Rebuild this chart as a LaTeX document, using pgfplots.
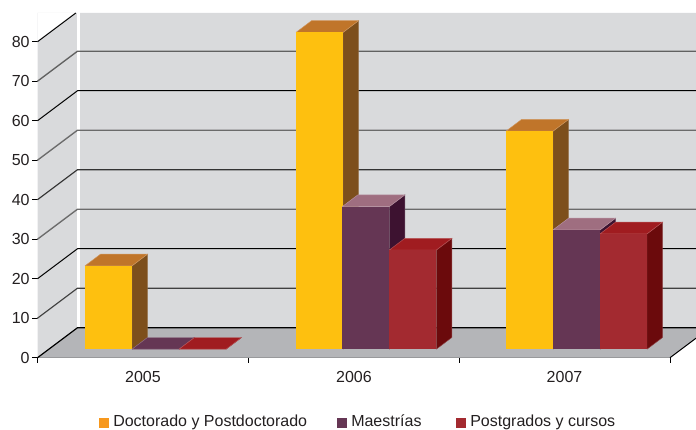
\documentclass[border=0pt]{standalone}
\usepackage{fontspec}
\setmainfont{Liberation Sans}
\usepackage{pgfplots}
\pgfplotsset{compat=1.18}

\definecolor{wallc}{HTML}{D9DADC}
\definecolor{floorc}{HTML}{B4B5B8}
\definecolor{inkc}{HTML}{231F20}
\definecolor{keyY}{HTML}{F7981D}
\definecolor{yelF}{HTML}{FEC00F}\definecolor{yelS}{HTML}{7D4F1C}\definecolor{yelT}{HTML}{C0752A}
\definecolor{purF}{HTML}{653654}\definecolor{purS}{HTML}{3D1230}\definecolor{purT}{HTML}{9F6E80}
\definecolor{redF}{HTML}{A32A30}\definecolor{redS}{HTML}{6B0A0C}\definecolor{redT}{HTML}{A01C20}

% one back-wall grid line: rises along the side wall, then runs along the back wall
\newcommand\wallrule[3]{%
  \pgfmathsetmacro\wallv{#1+7.595}%
  \addplot[#2, line width=#3] coordinates {(37.5,#1) (77.5,\wallv) (696,\wallv)};}

% one solid bar: left edge, value, front / side / top colours
\newcommand\solidbar[5]{%
  \pgfmathsetmacro\barxc{#1+23.5}\pgfmathsetmacro\barxr{#1+47}%
  \pgfmathsetmacro\barxl{#1+15.5}\pgfmathsetmacro\barxb{#1+62.5}%
  \pgfmathsetmacro\barvb{#2+2.96}%
  \addplot[fill=#4, draw=#4!75!white, line width=0.35pt] coordinates {(\barxr,0) (\barxb,2.96) (\barxb,\barvb) (\barxr,#2) (\barxr,0)};
  \addplot[fill=#5, draw=#5!75!white, line width=0.35pt] coordinates {(#1,#2) (\barxl,\barvb) (\barxb,\barvb) (\barxr,#2) (#1,#2)};
  \addplot[ybar, bar width=47, bar shift=0pt, fill=#3, draw=none] coordinates {(\barxc,#2)};}

\begin{document}
\begin{tikzpicture}
\useasboundingbox (-28.125pt,-53.475pt) rectangle (493.875pt,268.275pt);

% frame: side wall, back wall, floor, ticks
\begin{axis}[
  scale only axis, width=474.375pt, height=237pt,
  xmin=37.5, xmax=670, ymin=0, ymax=80,
  clip=false,
  axis lines*=left,
  x axis line style={draw=black!60, line width=1pt},
  y axis line style={draw=none},
  ytick={0,10,...,80},
  xtick={143,354,564.5},
  xticklabels={2005,2006,2007},
  minor xtick={37.5,248.5,459.5,670},
  tick align=outside,
  major tick length=3.75pt,
  minor tick length=3.75pt,
  major x tick style={draw=none},
  minor x tick style={black, line width=0.75pt},
  y tick style={black, line width=0.75pt},
  tick label style={font=\fontsize{12}{14}\selectfont, text=inkc},
  /pgf/number format/assume math mode=true,
  yticklabel style={inner sep=0pt, xshift=-2pt},
  xticklabel style={inner sep=0pt, yshift=-6pt},
]
  \addplot[fill=wallc, draw=none] coordinates {(37.5,0) (77.5,7.595) (77.5,87.27) (37.5,87.27) (37.5,0)};
  \addplot[fill=wallc, draw=none] coordinates {(80,7.595) (696,7.595) (696,87.27) (80,87.27) (80,7.595)};
  \addplot[fill=white, draw=none] coordinates {(37.5,80) (75.8,87.27) (37.5,87.27) (37.5,80)};
  \addplot[white, line width=1.8pt] coordinates {(78.5,7.595) (78.5,87.27)};
  \addplot[fill=floorc, draw=none] coordinates {(37.5,0) (77.5,7.595) (696,7.595) (696,4.94) (670,0) (37.5,0)};

  \wallrule{70}{black!62}{1pt}
  \wallrule{60}{black}{0.75pt}
  \wallrule{50}{black!58}{1pt}
  \wallrule{40}{black!80}{0.85pt}
  \wallrule{30}{black!58}{1pt}
  \wallrule{20}{black}{0.75pt}
  \wallrule{10}{black!75}{0.85pt}
  \wallrule{0}{black}{0.9pt}
  \addplot[black, line width=0.75pt] coordinates {(37.5,80) (75.8,87.27)};
  \addplot[black, line width=0.75pt] coordinates {(670,0) (696,4.94)};

  % legend
  \fill[keyY] (axis cs:99,-15.3) rectangle (axis cs:109,-17.85);
  \node[anchor=base west, inner sep=0pt, text=inkc, font=\fontsize{12}{14}\selectfont] at (axis cs:113,-17.47) {Doctorado y Postdoctorado};
  \fill[purF] (axis cs:337,-15.3) rectangle (axis cs:347,-17.85);
  \node[anchor=base west, inner sep=0pt, text=inkc, font=\fontsize{12}{14}\selectfont] at (axis cs:351,-17.47) {Maestrías};
  \fill[redF] (axis cs:456,-15.3) rectangle (axis cs:466,-17.85);
  \node[anchor=base west, inner sep=0pt, text=inkc, font=\fontsize{12}{14}\selectfont] at (axis cs:470,-17.47) {Postgrados y cursos};
\end{axis}

% bars stand on the floor, somewhat behind the front edge
\begin{axis}[
  scale only axis, width=474.375pt, height=237pt,
  xmin=37.5, xmax=670, ymin=-2.152, ymax=77.848,
  clip=false, hide axis,
]
  % Doctorado y Postdoctorado
  \solidbar{85}{21.1}{yelF}{yelS}{yelT}
  \solidbar{296}{80.2}{yelF}{yelS}{yelT}
  \solidbar{506}{55.2}{yelF}{yelS}{yelT}
  % Maestrías
  \solidbar{132}{0}{purF}{purS}{purF}
  \solidbar{342.3}{36.1}{purF}{purS}{purT}
  \solidbar{553}{30.2}{purF}{purS}{purT}
  % Postgrados y cursos
  \solidbar{179}{0}{redF}{redS}{redT}
  \solidbar{389.3}{25.1}{redF}{redS}{redT}
  \solidbar{600}{29.2}{redF}{redS}{redT}
\end{axis}
\end{tikzpicture}
\end{document}
